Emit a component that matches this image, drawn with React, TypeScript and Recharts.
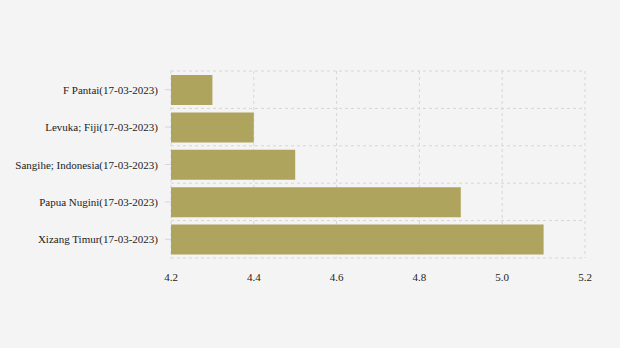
import { BarChart, Bar, XAxis, YAxis, CartesianGrid } from 'recharts'

const regions = [
  'F Pantai(17-03-2023)',
  'Levuka; Fiji(17-03-2023)',
  'Sangihe; Indonesia(17-03-2023)',
  'Papua Nugini(17-03-2023)',
  'Xizang Timur(17-03-2023)',
]
const magnitudes = [4.3, 4.4, 4.5, 4.9, 5.1]
const xTicks = [4.2, 4.4, 4.6, 4.8, 5.0, 5.2]

const data = regions.map((name, i) => ({ name, value: magnitudes[i] }))

const font = '"Liberation Serif", "Times New Roman", serif'

function RegionTick({ x, y, payload }: any) {
  return (
    <text x={x - 2} y={y} dy={4} textAnchor="end" fill="#222" fontSize={11} fontFamily={font}>
      {payload.value}
    </text>
  )
}

export default function App() {
  return (
    <div
      style={{
        position: 'fixed',
        left: 0,
        top: 0,
        width: 620,
        height: 348,
        background: '#f4f4f4',
      }}
    >
      <BarChart
        width={620}
        height={348}
        data={data}
        layout="vertical"
        margin={{ top: 71, right: 35, bottom: 60, left: 0 }}
        barSize={30}
      >
        <CartesianGrid
          stroke="#d6d6d6"
          strokeDasharray="3 3"
          horizontalCoordinatesGenerator={({ offset }: any) => {
            const step = offset.height / regions.length
            return regions.map((_, i) => offset.top + i * step).concat(offset.top + offset.height)
          }}
          verticalCoordinatesGenerator={({ offset }: any) =>
            xTicks.map((_, i) => offset.left + (i * offset.width) / (xTicks.length - 1))
          }
        />
        <XAxis
          type="number"
          domain={[4.2, 5.2]}
          ticks={xTicks}
          tickFormatter={(v: number) => v.toFixed(1)}
          axisLine={false}
          tickLine={false}
          tickMargin={9}
          tick={{ fill: '#222', fontSize: 11, fontFamily: font }}
        />
        <YAxis
          type="category"
          dataKey="name"
          width={171}
          axisLine={false}
          tickLine={{ stroke: '#d6d6d6' }}
          tickMargin={5}
          tick={<RegionTick />}
        />
        <Bar dataKey="value" fill="#ab9f55" fillOpacity={0.95} isAnimationActive={false} />
      </BarChart>
    </div>
  )
}
